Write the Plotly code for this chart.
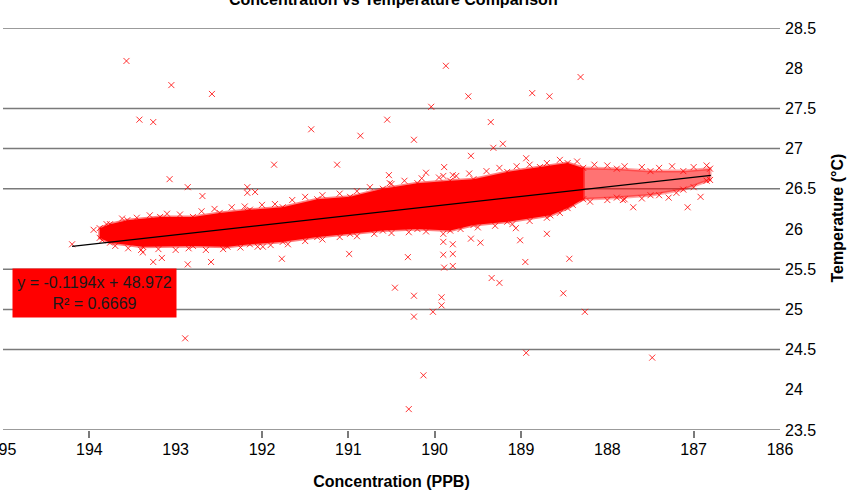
import plotly.graph_objects as go

# ---------------- data ----------------
x_ticks = [195, 194, 193, 192, 191, 190, 189, 188, 187, 186]
x_tick_marks = [194, 192, 191, 190, 189, 187]
y_ticks = [23.5, 24, 24.5, 25, 25.5, 26, 26.5, 27, 27.5, 28, 28.5]
y_grid = [28.5, 27.5, 27, 26.5, 25.5, 25, 24.5, 23.5]

# envelope of the dense cloud of readings
band_upper_x = [193.88, 193.76, 193.56, 193.18, 192.80, 192.49, 192.14, 191.76, 191.36, 190.98,
                190.60, 190.20, 189.82, 189.55, 189.16, 188.78, 188.46, 188.28, 187.89, 187.50,
                187.12, 186.81]
band_upper_y = [26.01, 26.06, 26.11, 26.15, 26.15, 26.20, 26.24, 26.27, 26.37, 26.40,
                26.50, 26.57, 26.60, 26.62, 26.71, 26.77, 26.82, 26.76, 26.75, 26.72,
                26.72, 26.75]
band_lower_x = [186.81, 187.12, 187.50, 187.89, 188.28, 188.46, 188.66, 189.16, 189.55, 189.82,
                190.20, 190.60, 190.98, 191.36, 191.76, 192.14, 192.40, 192.80, 193.38, 193.76,
                193.88]
band_lower_y = [26.61, 26.49, 26.42, 26.39, 26.37, 26.26, 26.17, 26.09, 26.05, 25.98,
                26.00, 25.98, 25.94, 25.90, 25.84, 25.81, 25.78, 25.79, 25.78, 25.83,
                25.89]
band_split_x = 188.28

# readings on the ragged edges of the band
fringe_x = [193.80, 193.62, 193.45, 193.30, 193.10, 192.95, 192.70, 192.55, 192.35, 192.20,
            192.00, 191.85, 191.65, 191.50, 191.30, 191.10, 190.90, 190.75, 190.50, 190.35,
            190.15, 189.95, 189.75, 189.60, 189.40, 189.25, 189.05, 188.90, 188.70, 188.55,
            188.35, 188.15, 188.00, 187.80, 187.60, 187.40, 187.25, 187.00, 186.85,
            193.85, 193.70, 193.55, 193.40, 193.20, 193.00, 192.85, 192.65, 192.45, 192.25,
            192.05, 191.90, 191.70, 191.50, 191.30, 191.10, 190.90, 190.70, 190.50, 190.30,
            190.10, 189.90, 189.70, 189.50, 189.30, 189.10, 188.90, 188.70, 188.55, 188.40,
            188.20, 188.00, 187.80, 187.60, 187.40, 187.20, 187.00, 186.85]
fringe_y = [26.06, 26.13, 26.14, 26.17, 26.19, 26.18, 26.22, 26.25, 26.27, 26.28,
            26.30, 26.31, 26.36, 26.40, 26.42, 26.44, 26.47, 26.52, 26.56, 26.60,
            26.63, 26.64, 26.66, 26.69, 26.72, 26.76, 26.78, 26.80, 26.82, 26.86,
            26.84, 26.80, 26.79, 26.78, 26.77, 26.76, 26.78, 26.77, 26.79,
            25.86, 25.79, 25.76, 25.74, 25.75, 25.74, 25.76, 25.74, 25.75, 25.77,
            25.78, 25.80, 25.81, 25.85, 25.87, 25.90, 25.91, 25.94, 25.95, 25.96,
            25.97, 25.94, 26.00, 26.02, 26.04, 26.06, 26.10, 26.14, 26.20, 26.30,
            26.34, 26.36, 26.37, 26.38, 26.42, 26.45, 26.52, 26.60]

# scattered readings outside the dense band
outlier_x = [193.57, 193.05, 192.58, 193.42, 193.26, 189.87, 188.31, 189.61, 188.87, 188.67,
             190.04, 191.43, 190.55, 190.86, 190.24, 189.35, 189.21, 189.32,
             193.07, 192.86, 192.69, 192.17, 192.17, 192.08, 192.17, 193.95, 194.20, 193.38,
             193.16, 193.26, 192.86, 192.59, 191.86, 191.13, 189.89, 190.53, 190.52, 190.10,
             189.90, 190.99, 191.77, 190.31, 189.90, 189.90, 189.89, 190.46, 191.99, 189.58,
             188.94, 189.79, 189.06, 189.58, 189.47, 189.01, 188.70, 189.79, 189.79, 189.79,
             188.95, 188.44, 189.34, 189.25, 187.29, 187.07, 186.92, 187.70, 187.82,
             190.24, 189.92, 189.92, 190.02, 190.24, 188.51, 188.26, 192.89, 188.94, 187.48,
             190.13, 190.30]
outlier_y = [28.09, 27.79, 27.68, 27.36, 27.33, 28.03, 27.89, 27.65, 27.69, 27.65,
             27.52, 27.24, 27.36, 27.16, 27.11, 27.33, 27.06, 27.01,
             26.62, 26.52, 26.41, 26.52, 26.45, 26.46, 26.22, 25.99, 25.81, 25.71,
             25.64, 25.59, 25.56, 25.59, 26.80, 26.80, 26.77, 26.67, 26.57, 26.70,
             26.66, 25.69, 25.63, 25.65, 25.84, 25.68, 25.52, 25.27, 25.78, 26.91,
             26.88, 26.67, 26.01, 25.88, 25.83, 25.86, 25.94, 25.81, 25.69, 25.54,
             25.59, 25.63, 25.39, 25.33, 26.39, 26.27, 26.40, 26.27, 26.36,
             25.17, 25.15, 25.05, 24.97, 24.91, 25.20, 24.97, 24.64, 24.46, 24.40,
             24.18, 23.76]

trend_slope = -0.1194
trend_intercept = 48.972
trend_x = [194.2, 186.8]
trend_label = "y = -0.1194x + 48.972<br>R² = 0.6669"

title_text = "Concentration vs Temperature Comparison"
x_title = "Concentration (PPB)"
y_title = "Temperature (°C)"

# ---------------- figure ----------------
FONT = "Liberation Sans, Arial, sans-serif"
RED = "#ff0000"
MARK = "rgba(255,0,0,0.8)"

def poly(keep):
    ux = [x for x in band_upper_x if keep(x)]
    uy = [y for x, y in zip(band_upper_x, band_upper_y) if keep(x)]
    lx = [x for x in band_lower_x if keep(x)]
    ly = [y for x, y in zip(band_lower_x, band_lower_y) if keep(x)]
    return ux + lx + ux[:1], uy + ly + uy[:1]

fig = go.Figure()

dx, dy = poly(lambda v: v >= band_split_x)
fig.add_trace(go.Scatter(x=dx, y=dy, mode="lines", fill="toself", fillcolor=RED,
                         line=dict(color="rgba(255,0,0,0.5)", width=3), hoverinfo="skip"))
sx, sy = poly(lambda v: v <= band_split_x)
fig.add_trace(go.Scatter(x=sx, y=sy, mode="lines", fill="toself", fillcolor="rgba(255,0,0,0.55)",
                         line=dict(color="rgba(255,0,0,0.35)", width=3), hoverinfo="skip"))

xmarker = dict(symbol="x-thin-open", size=6, color=MARK, line=dict(color=MARK, width=1))
fig.add_trace(go.Scatter(x=band_upper_x + band_lower_x + fringe_x,
                         y=band_upper_y + band_lower_y + fringe_y,
                         mode="markers", marker=xmarker))
fig.add_trace(go.Scatter(x=outlier_x, y=outlier_y, mode="markers", marker=xmarker))

trend_y = [trend_slope * v + trend_intercept for v in trend_x]
fig.add_trace(go.Scatter(x=trend_x, y=trend_y, mode="lines",
                         line=dict(color="#000000", width=1.3)))

# invisible trace so the tick-mark axis gets drawn
fig.add_trace(go.Scatter(x=[195, 186], y=[23.5, 23.5], xaxis="x2", mode="markers",
                         marker=dict(opacity=0), hoverinfo="skip"))

for v in y_grid:
    fig.add_shape(type="line", xref="paper", x0=0, x1=1, yref="y", y0=v, y1=v,
                  line=dict(color="#7a7a7a", width=1.5), layer="below")

fig.add_annotation(x=193.94, y=25.20, xref="x", yref="y", text=trend_label, showarrow=False,
                   bgcolor=RED, width=157, height=42, borderpad=3, align="center",
                   font=dict(family=FONT, size=16, color="#1a1a1a"))

fig.add_annotation(x=0.502, y=1.072, xref="paper", yref="paper", text=title_text,
                   showarrow=False, yanchor="middle",
                   font=dict(family=FONT, size=16, color="#000000", weight="bold"))

fig.add_annotation(x=1.0746, y=0.5286, xref="paper", yref="paper", text=y_title,
                   showarrow=False, textangle=-90, xanchor="center", yanchor="middle",
                   font=dict(family=FONT, size=16, color="#000000", weight="bold"))

fig.update_layout(
    template="none",
    width=849, height=490,
    margin=dict(l=3, r=69, t=28, b=60, autoexpand=False),
    paper_bgcolor="white", plot_bgcolor="white",
    showlegend=False,
    font=dict(family=FONT, size=16, color="#000000"),
    xaxis=dict(range=[195, 186], tickvals=x_ticks, ticktext=[str(v) for v in x_ticks],
               ticks="", showgrid=False, zeroline=False, showline=False, automargin=False,
               ticklabeloverflow="allow", ticklabelstandoff=8,
               tickfont=dict(family=FONT, size=16, color="#000000"),
               title=dict(text=x_title, standoff=19,
                          font=dict(family=FONT, size=16, color="#000000", weight="bold"))),
    xaxis2=dict(range=[195, 186], overlaying="x", anchor="y", side="bottom",
                tickvals=x_tick_marks, showticklabels=False, ticks="outside", ticklen=7,
                tickcolor="#7a7a7a", tickwidth=1.5, showgrid=False, zeroline=False,
                showline=False, automargin=False),
    yaxis=dict(range=[23.5, 28.5], side="right", tickvals=y_ticks,
               ticktext=[f"{v:g}" for v in y_ticks], ticks="", showgrid=False,
               zeroline=False, showline=False, automargin=False, ticklabelstandoff=4,
               tickfont=dict(family=FONT, size=16, color="#000000")),
)

fig.write_html("out.html")
